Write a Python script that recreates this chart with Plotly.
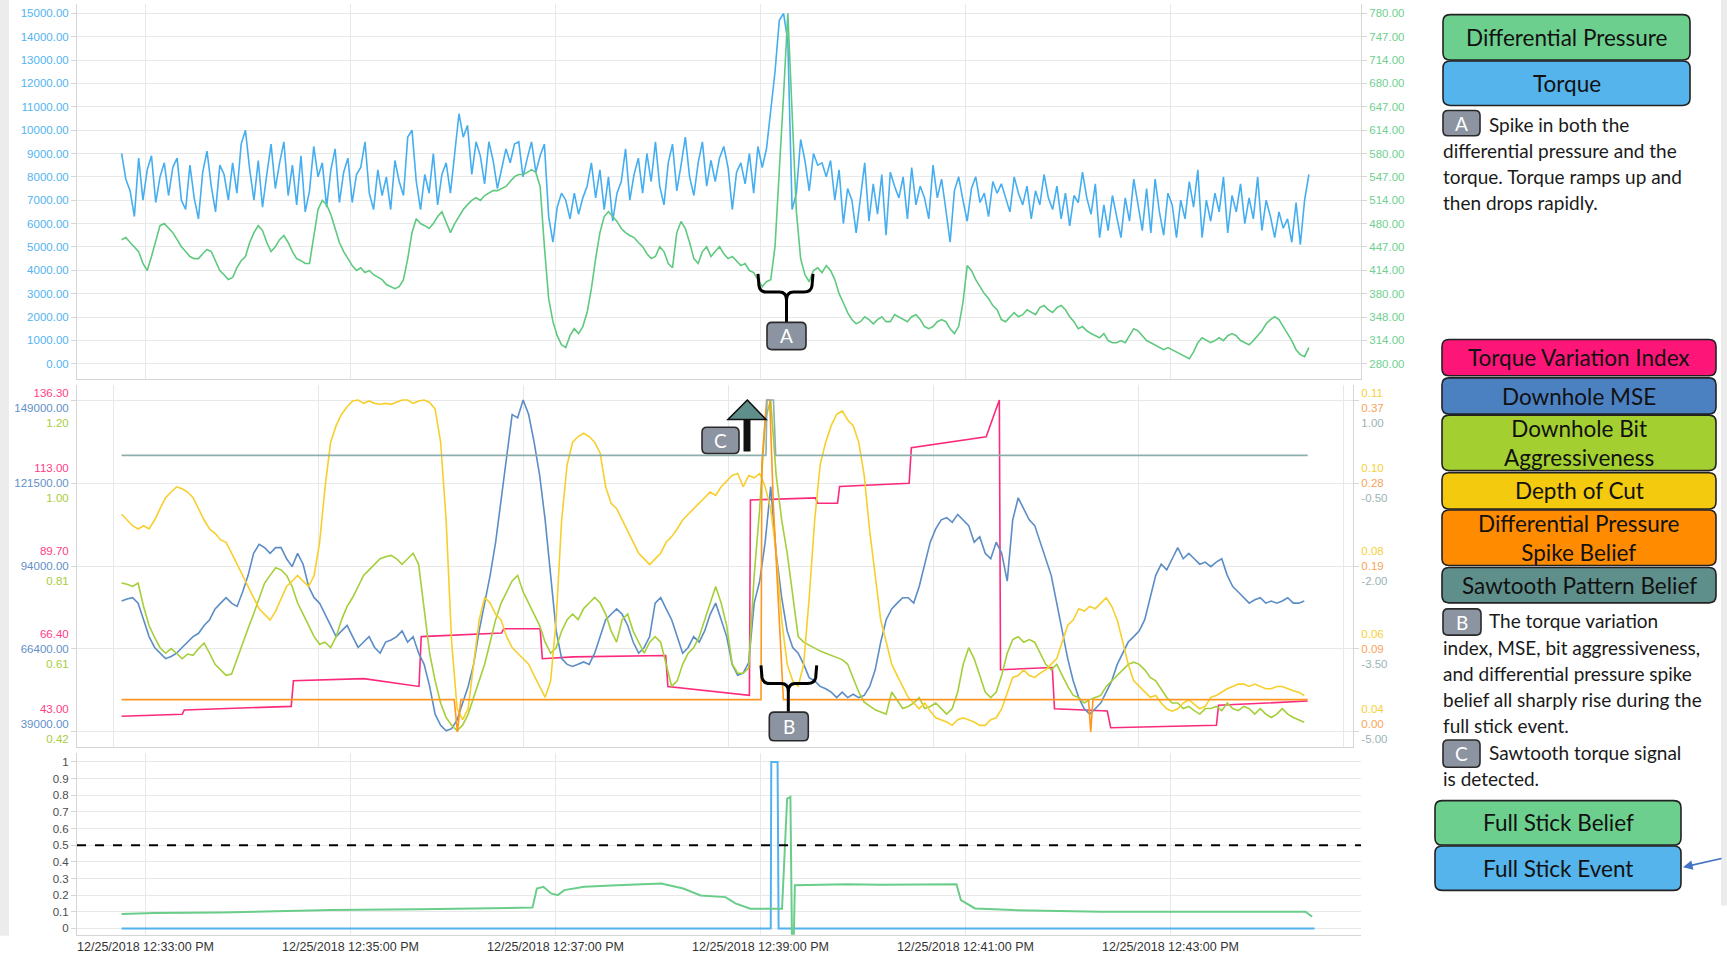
import numpy as np
import pandas as pd
import plotly.graph_objects as go

W, H = 1727, 954
# the photo of the page tends to come out a little squeezed vertically: photo_y ~= Y_SCALE * page_y + Y_SHIFT
Y_SCALE, Y_SHIFT = 0.987, 2.5

# ------------------------------------------------------------------ data
start_time = pd.Timestamp("2018-12-25 12:32:46")
top_period_s = 2.5
mid_period_s = 3.22

torque = [
    9000, 7900, 7400, 6300, 8800, 7000, 8300, 8900, 6900, 8000, 8600, 7200, 8400, 8800, 7000, 6600, 8500, 7100, 6200, 8200, 9100, 7600, 6500, 8500, 8100, 7000,
    8600, 7300, 9400, 10000, 8300, 7000, 8700, 6700, 8100, 9400, 7500, 8600, 9500, 7200, 8500, 6800, 8900, 6500, 7400, 9300, 8000, 8600, 6700, 8300, 9200, 6900,
    8200, 8800, 6900, 8100, 8400, 9500, 7300, 6600, 8300, 7200, 8000, 6600, 8700, 7800, 7200, 9700, 10000, 7800, 6600, 8100, 7300, 9000, 6800, 8100, 8600, 7300,
    9000, 10700, 9700, 10200, 8100, 9500, 8900, 7700, 9500, 8700, 7500, 8300, 9200, 8600, 9400, 9500, 8000, 8800, 9500, 8200, 8900, 9400, 6300, 5200, 6700, 7300,
    7000, 6200, 7300, 6400, 7100, 7600, 8600, 7100, 8300, 6600, 8000, 6100, 7300, 7800, 9200, 7000, 8100, 8800, 7300, 9000, 7800, 9500, 7600, 6800, 8600, 9400,
    7400, 8500, 9700, 8000, 7200, 8600, 9500, 7600, 8700, 7800, 8800, 9300, 8400, 6600, 8200, 8600, 7700, 9000, 7300, 9300, 8400, 9200, 10900, 12500, 14700, 15000,
    13800, 6600, 7300, 9600, 8700, 7400, 9000, 8500, 8600, 8000, 8700, 7000, 8300, 6000, 7500, 7000, 5600, 7100, 8600, 6100, 7700, 6400, 8100, 5500, 8200, 7600,
    7100, 8000, 6200, 8400, 6800, 7600, 7100, 6200, 8500, 7100, 7900, 6600, 5200, 7400, 8000, 7000, 6100, 7500, 8000, 6900, 7300, 6300, 7800, 7300, 7700, 7100,
    6500, 8000, 7300, 6800, 7600, 6200, 7400, 6800, 8100, 7100, 6600, 7600, 6200, 7300, 5900, 7200, 6900, 8200, 7100, 6400, 7700, 5400, 6800, 5700, 7200, 6300,
    5400, 7100, 6100, 7900, 6700, 5700, 7500, 5600, 7900, 6500, 5500, 7300, 6800, 5400, 7000, 6200, 7800, 6700, 8300, 5400, 7000, 6100, 7300, 6500, 8000, 5600,
    7200, 6500, 7700, 6000, 7100, 6200, 8000, 5700, 7000, 6300, 5400, 6500, 5800, 6200, 5200, 6900, 5100, 7000, 8100,
]

diff_pressure = [
    457, 460, 453, 447, 440, 423, 413, 433, 457, 477, 480, 473, 467, 457, 447, 440, 433, 430, 430, 437, 443, 440, 427, 413, 407, 400,
    403, 417, 427, 433, 453, 467, 477, 470, 453, 440, 447, 457, 463, 453, 440, 430, 427, 423, 423, 463, 500, 513, 507, 493, 473, 453,
    440, 430, 420, 413, 417, 410, 413, 407, 403, 400, 393, 390, 387, 390, 400, 430, 467, 487, 480, 477, 473, 480, 490, 497, 483, 467,
    480, 490, 500, 507, 513, 517, 513, 520, 523, 527, 527, 530, 533, 540, 547, 550, 550, 553, 557, 553, 533, 447, 373, 340, 320, 307,
    303, 320, 330, 323, 333, 353, 387, 430, 467, 490, 497, 490, 483, 473, 467, 463, 460, 453, 447, 437, 430, 433, 447, 440, 423, 417,
    467, 483, 473, 453, 430, 423, 440, 447, 433, 440, 447, 437, 430, 433, 427, 420, 423, 413, 410, 400, 390, 397, 400, 447, 547, 663,
    780, 647, 497, 430, 407, 397, 413, 417, 410, 420, 413, 400, 380, 367, 353, 343, 337, 340, 347, 343, 337, 343, 347, 340, 340, 350,
    347, 343, 340, 347, 350, 343, 333, 330, 333, 340, 343, 340, 330, 323, 333, 367, 420, 413, 400, 390, 380, 373, 363, 357, 343, 340,
    347, 353, 347, 350, 357, 353, 350, 360, 363, 357, 353, 360, 363, 357, 347, 340, 330, 333, 327, 323, 320, 317, 323, 313, 310, 310,
    313, 310, 320, 330, 327, 320, 313, 310, 307, 303, 300, 303, 300, 297, 293, 290, 287, 297, 310, 317, 313, 310, 313, 317, 313, 320,
    323, 320, 313, 310, 307, 313, 320, 327, 337, 343, 347, 343, 333, 323, 313, 300, 293, 290, 303,
]

downhole_mse = [
    82400, 83100, 83500, 81700, 76200, 70600, 67000, 65100, 63300, 64000, 65100, 67000, 68800, 70600, 71700, 74300, 76200, 79800, 81700, 83500,
    81700, 80600, 85400, 90900, 98200, 101200, 100100, 98200, 100100, 100100, 96400, 93800, 98200, 94600, 87200, 83500, 81700, 78000, 74300, 70600,
    72500, 74300, 70600, 67000, 68800, 70600, 67000, 65100, 68800, 69500, 70600, 72500, 68800, 70600, 65100, 61400, 54100, 44900, 41200, 39400,
    40100, 43000, 48600, 54100, 61400, 72500, 81700, 90900, 101900, 116600, 131300, 144200, 143100, 149000, 144200, 135000, 124000, 109300, 90900, 72500,
    63300, 61400, 60700, 61400, 62200, 61400, 65100, 70600, 76200, 78000, 79800, 78000, 74300, 68800, 65100, 67000, 70600, 81700, 83500, 79800,
    76200, 70600, 65100, 67000, 70600, 68800, 72500, 78000, 81700, 76200, 70600, 61400, 57800, 58500, 62000, 81700, 89000, 101900, 120300, 98200,
    83500, 72500, 67000, 65100, 61400, 57000, 55900, 54100, 53300, 52200, 50400, 52200, 50400, 51500, 50400, 51100, 54100, 59600, 68800, 76200,
    79800, 81700, 83500, 83500, 81700, 87200, 94600, 101900, 106300, 109300, 110000, 108500, 111100, 109300, 107400, 101900, 103700, 98200, 96400, 101900,
    98200, 89000, 109300, 116600, 112900, 109300, 107400, 101900, 96400, 90900, 81700, 72500, 63300, 55900, 50400, 46700, 44900, 46700, 48600, 52200,
    55900, 61400, 65100, 68800, 70600, 72500, 76200, 83500, 90900, 94600, 92700, 96400, 100100, 96400, 98200, 96400, 94600, 95300, 93800, 95300,
    96400, 90900, 87200, 85400, 83500, 81700, 82800, 83500, 81700, 82400, 81700, 82400, 83500, 81700, 81700, 82400,
]

bit_aggressiveness = [
    0.770, 0.767, 0.762, 0.770, 0.715, 0.670, 0.642, 0.618, 0.605, 0.616, 0.605, 0.592, 0.603, 0.600, 0.616, 0.629, 0.605, 0.579, 0.566, 0.553,
    0.556, 0.592, 0.631, 0.663, 0.697, 0.736, 0.770, 0.788, 0.806, 0.801, 0.788, 0.762, 0.723, 0.697, 0.670, 0.644, 0.626, 0.631, 0.618, 0.644,
    0.684, 0.715, 0.736, 0.762, 0.788, 0.801, 0.814, 0.827, 0.832, 0.835, 0.827, 0.814, 0.827, 0.840, 0.814, 0.710, 0.605, 0.540, 0.488, 0.454,
    0.436, 0.423, 0.436, 0.462, 0.501, 0.540, 0.579, 0.631, 0.684, 0.723, 0.749, 0.775, 0.788, 0.749, 0.723, 0.697, 0.670, 0.631, 0.605, 0.618,
    0.657, 0.684, 0.697, 0.684, 0.710, 0.723, 0.736, 0.723, 0.697, 0.657, 0.631, 0.684, 0.697, 0.657, 0.631, 0.605, 0.631, 0.644, 0.631, 0.579,
    0.527, 0.540, 0.579, 0.605, 0.618, 0.644, 0.684, 0.723, 0.762, 0.723, 0.670, 0.580, 0.558, 0.558, 0.570, 0.788, 0.944, 1.153, 1.200, 1.023,
    0.918, 0.840, 0.736, 0.644, 0.631, 0.624, 0.616, 0.610, 0.605, 0.600, 0.595, 0.590, 0.579, 0.548, 0.514, 0.490, 0.480, 0.472, 0.467, 0.462,
    0.514, 0.496, 0.475, 0.480, 0.488, 0.501, 0.475, 0.480, 0.488, 0.475, 0.462, 0.475, 0.514, 0.579, 0.618, 0.592, 0.553, 0.514, 0.501, 0.514,
    0.553, 0.605, 0.637, 0.644, 0.631, 0.637, 0.631, 0.605, 0.579, 0.566, 0.579, 0.553, 0.527, 0.506, 0.501, 0.488, 0.496, 0.501, 0.506, 0.527,
    0.540, 0.553, 0.566, 0.579, 0.584, 0.579, 0.566, 0.548, 0.540, 0.522, 0.501, 0.488, 0.488, 0.475, 0.480, 0.470, 0.462, 0.475, 0.475, 0.480,
    0.470, 0.488, 0.475, 0.470, 0.480, 0.475, 0.462, 0.475, 0.462, 0.454, 0.462, 0.475, 0.462, 0.454, 0.449, 0.443,
]

depth_of_cut = [
    0.0859, 0.0847, 0.0835, 0.0828, 0.0835, 0.0828, 0.0847, 0.0871, 0.0894, 0.0906, 0.0917, 0.0913, 0.0906, 0.0894, 0.0871, 0.0847, 0.0828, 0.0819, 0.0805, 0.0800,
    0.0777, 0.0753, 0.0730, 0.0707, 0.0683, 0.0660, 0.0648, 0.0636, 0.0655, 0.0683, 0.0707, 0.0718, 0.0730, 0.0718, 0.0707, 0.0730, 0.0800, 0.0917, 0.1011, 0.1046,
    0.1070, 0.1086, 0.1098, 0.1100, 0.1093, 0.1098, 0.1093, 0.1091, 0.1093, 0.1091, 0.1095, 0.1100, 0.1100, 0.1093, 0.1098, 0.1100, 0.1095, 0.1081, 0.1011, 0.0847,
    0.0590, 0.0449, 0.0426, 0.0449, 0.0543, 0.0636, 0.0683, 0.0672, 0.0648, 0.0636, 0.0601, 0.0578, 0.0566, 0.0555, 0.0543, 0.0519, 0.0496, 0.0473, 0.0508, 0.0636,
    0.0847, 0.0964, 0.1011, 0.1023, 0.1030, 0.1023, 0.1011, 0.0988, 0.0917, 0.0882, 0.0871, 0.0847, 0.0824, 0.0800, 0.0777, 0.0765, 0.0753, 0.0765, 0.0777, 0.0800,
    0.0812, 0.0828, 0.0847, 0.0859, 0.0871, 0.0882, 0.0894, 0.0906, 0.0899, 0.0917, 0.0929, 0.0941, 0.0945, 0.0917, 0.0941, 0.0936, 0.0945, 0.0917, 0.0871, 0.0777,
    0.0636, 0.0543, 0.0508, 0.0496, 0.0543, 0.0683, 0.0847, 0.0964, 0.1011, 0.1046, 0.1070, 0.1077, 0.1058, 0.1046, 0.1011, 0.0941, 0.0824, 0.0730, 0.0636, 0.0590,
    0.0543, 0.0519, 0.0496, 0.0473, 0.0461, 0.0449, 0.0461, 0.0444, 0.0430, 0.0426, 0.0421, 0.0414, 0.0426, 0.0430, 0.0426, 0.0421, 0.0414, 0.0414, 0.0426, 0.0430,
    0.0449, 0.0484, 0.0515, 0.0519, 0.0531, 0.0519, 0.0515, 0.0524, 0.0531, 0.0543, 0.0555, 0.0590, 0.0625, 0.0636, 0.0660, 0.0655, 0.0665, 0.0660, 0.0672, 0.0683,
    0.0665, 0.0636, 0.0590, 0.0543, 0.0508, 0.0496, 0.0484, 0.0473, 0.0477, 0.0461, 0.0449, 0.0444, 0.0449, 0.0461, 0.0468, 0.0459, 0.0449, 0.0454, 0.0473, 0.0477,
    0.0484, 0.0491, 0.0496, 0.0501, 0.0501, 0.0496, 0.0501, 0.0496, 0.0491, 0.0491, 0.0496, 0.0496, 0.0491, 0.0487, 0.0484, 0.0477,
]

# step-like series as (seconds after start, value) breakpoints
tvi_sec = [0, 35.5, 36.7, 99.3, 100.6, 141.8, 174.1, 175.4, 222.4, 223.7, 245.0, 246.3, 264.3, 318.5, 319.8, 367.5, 368.1,
           406.2, 407.5, 419.1, 420.3, 461.0, 462.3, 506.1, 513.8, 514.5, 544.8, 546.1, 577.0, 579.0, 640.9, 642.1, 694.3]
tvi_val = [47.4, 48.0, 49.2, 50.2, 57.4, 58.0, 55.8, 69.8, 70.8, 72.0, 72.0, 63.6, 64.1, 64.5, 55.8, 53.3, 108.2,
           108.8, 107.3, 107.3, 112.0, 112.9, 122.9, 126.0, 136.3, 60.5, 61.1, 49.5, 48.9, 44.2, 44.9, 50.5, 51.7]

dpsb_sec = [0, 194.7, 196.6, 198.6, 374.3, 374.8, 377.6, 379.4, 381.6, 385.0, 387.4, 566.0, 567.3, 568.6, 694.3]
dpsb_val = [0.036, 0.036, 0.0, 0.036, 0.036, 0.30, 0.37, 0.37, 0.25, 0.12, 0.036, 0.036, 0.0, 0.036, 0.036]

saw_sec = [0, 377.2, 377.8, 381.6, 382.9, 694.3]
saw_val = [0.0, 0.0, 1.0, 1.0, 0.0, 0.0]

fsb_sec = [0, 19.3, 58.0, 98.0, 122.5, 174.1, 219.2, 240.5, 243.1, 246.9, 251.4, 255.3, 259.2, 270.8, 290.1, 303.0,
           315.9, 328.8, 338.9, 353.5, 359.3, 368.1, 386.6, 389.6, 391.5, 392.4, 393.5, 394.1, 424.7, 444.2,
           470.6, 488.7, 491.3, 499.6, 522.2, 573.8, 638.3, 693.1, 696.9]
fsb_val = [0.087, 0.092, 0.095, 0.105, 0.11, 0.115, 0.12, 0.125, 0.24, 0.25, 0.21, 0.20, 0.23, 0.25, 0.26, 0.265,
           0.27, 0.24, 0.198, 0.188, 0.15, 0.118, 0.118, 0.78, 0.79, -0.05, -0.05, 0.26, 0.265, 0.262,
           0.265, 0.265, 0.17, 0.12, 0.11, 0.10, 0.10, 0.10, 0.07]

fse_sec = [0, 380.0, 380.3, 384.0, 384.6, 698.3]
fse_val = [0, 0, 1, 1, 0, 0]

belief_threshold = 0.5

# tick labels
torque_tickvals = list(range(0, 15001, 1000))
torque_ticktext = ["0.00", "1000.00", "2000.00", "3000.00", "4000.00", "5000.00", "6000.00", "7000.00",
                   "8000.00", "9000.00", "10000.00", "11000.00", "12000.00", "13000.00", "14000.00", "15000.00"]
dp_ticktext = ["280.00", "314.00", "348.00", "380.00", "414.00", "447.00", "480.00", "514.00",
               "547.00", "580.00", "614.00", "647.00", "680.00", "714.00", "747.00", "780.00"]
tvi_ticktext = ["43.00", "66.40", "89.70", "113.00", "136.30"]
mse_ticktext = ["39000.00", "66400.00", "94000.00", "121500.00", "149000.00"]
ba_ticktext = ["0.42", "0.61", "0.81", "1.00", "1.20"]
doc_ticktext = ["0.04", "0.06", "0.08", "0.10", "0.11"]
dpsb_ticktext = ["0.00", "0.09", "0.19", "0.28", "0.37"]
saw_ticktext = ["-5.00", "-3.50", "-2.00", "-0.50", "1.00"]
belief_tickvals = [0, 0.1, 0.2, 0.3, 0.4, 0.5, 0.6, 0.7, 0.8, 0.9, 1]
belief_ticktext = ["0", "0.1", "0.2", "0.3", "0.4", "0.5", "0.6", "0.7", "0.8", "0.9", "1"]

# ------------------------------------------------------------------ colours
C_TORQUE = "#45aef0"
C_DP = "#5fc97f"
C_TVI = "#fb2a7c"
C_MSE = "#5b8dc6"
C_BA = "#a5cf3a"
C_DOC = "#f7cf2c"
C_DPSB = "#ff9620"
C_SAW = "#8eaeab"
C_FSB = "#6acd8a"
C_FSE = "#52b2ef"

def times_uniform(n, period):
    return start_time + pd.to_timedelta(np.arange(n) * period, unit="s")

def times_sec(secs):
    return start_time + pd.to_timedelta(np.array(secs, dtype=float), unit="s")

top_t = times_uniform(len(torque), top_period_s)
mid_t = times_uniform(len(downhole_mse), mid_period_s)

fig = go.Figure()
LW = 1.6
fig.add_trace(go.Scatter(x=top_t, y=torque, mode="lines", line=dict(color=C_TORQUE, width=LW), xaxis="x", yaxis="y"))
fig.add_trace(go.Scatter(x=top_t, y=diff_pressure, mode="lines", line=dict(color=C_DP, width=LW), xaxis="x", yaxis="y2"))
fig.add_trace(go.Scatter(x=times_sec(tvi_sec), y=tvi_val, mode="lines", line=dict(color=C_TVI, width=LW), xaxis="x2", yaxis="y3"))
fig.add_trace(go.Scatter(x=mid_t, y=downhole_mse, mode="lines", line=dict(color=C_MSE, width=LW), xaxis="x2", yaxis="y4"))
fig.add_trace(go.Scatter(x=mid_t, y=bit_aggressiveness, mode="lines", line=dict(color=C_BA, width=LW), xaxis="x2", yaxis="y5"))
fig.add_trace(go.Scatter(x=mid_t, y=depth_of_cut, mode="lines", line=dict(color=C_DOC, width=LW), xaxis="x2", yaxis="y6"))
fig.add_trace(go.Scatter(x=times_sec(dpsb_sec), y=dpsb_val, mode="lines", line=dict(color=C_DPSB, width=LW), xaxis="x2", yaxis="y7"))
fig.add_trace(go.Scatter(x=times_sec(saw_sec), y=saw_val, mode="lines", line=dict(color=C_SAW, width=LW), xaxis="x2", yaxis="y8"))
fig.add_trace(go.Scatter(x=times_sec(fse_sec), y=fse_val, mode="lines", line=dict(color=C_FSE, width=2), xaxis="x3", yaxis="y9"))
fig.add_trace(go.Scatter(x=times_sec(fsb_sec), y=fsb_val, mode="lines", line=dict(color=C_FSB, width=2), xaxis="x3", yaxis="y9"))

# ------------------------------------------------------------------ layout helpers (target photo pixels)
def FY(y):
    return (y - Y_SHIFT) / Y_SCALE

def PX(x):
    return x / W

def PY(y):
    return 1 - FY(y) / H

GRID = "#e8e8e8"
LINE = "#d6d6d6"
CLEAR = "rgba(0,0,0,0)"
TICKFONT = dict(family="Liberation Sans, Arial", size=11.5)

PX_PER_SEC = 102.5 / 60.0
T_1233_PX = 145.5
PLOT_L, PLOT_R, PLOT_R_MID = 77, 1361, 1353
t_1233 = pd.Timestamp("2018-12-25 12:33:00")

def t_at(px):
    return t_1233 + pd.to_timedelta((px - T_1233_PX) / PX_PER_SEC, unit="s")

def xaxis(anchor, labels, right=PLOT_R, grid0="2018-12-25 12:33:00"):
    return dict(domain=[PX(PLOT_L), PX(right)], anchor=anchor, range=[t_at(PLOT_L), t_at(right)], type="date",
                tick0=grid0, dtick=120000, showgrid=True, gridcolor=GRID,
                showline=True, linecolor=LINE, zeroline=False, showticklabels=labels, ticks="",
                tickformat="%m/%d/%Y %I:%M:%S %p",
                tickfont=dict(family="Liberation Sans, Arial", size=12.5, color="#333333"))

def panel(top, bot):
    return max(FY(top), 0.0), min(FY(bot), H)

def lin_range(v_hi, px_hi, v_lo, px_lo, pnl):
    f_hi, f_lo = FY(px_hi), FY(px_lo)
    f_top, f_bot = pnl
    per_px = (v_hi - v_lo) / (f_lo - f_hi)
    return [v_lo - (f_bot - f_lo) * per_px, v_hi + (f_hi - f_top) * per_px]

def dom(pnl):
    return [1 - pnl[1] / H, 1 - pnl[0] / H]

def stack(*cols):
    out = []
    for parts in zip(*[c[1] for c in cols]):
        out.append("<br>".join(f"<span style='color:{col}'>{t}</span>" for (col, _), t in zip(cols, parts)))
    return out

TOP = panel(6, 378)
MID = panel(384, 743)
BOT = panel(749, 929)
MID_GRID_TOP, MID_GRID_BOT = 399.0, 728.0

def top_rng(hi, lo):
    return lin_range(hi, 15.7, lo, 363.0, TOP)

def mid_rng(hi, lo):
    return lin_range(hi, MID_GRID_TOP, lo, MID_GRID_BOT, MID)

def mid_label_pos(lo, hi, inset_px=8.0):
    # the outermost label groups sit inside the panel (nudged inwards by inset_px)
    step = (hi - lo) / 4
    per_px = step / ((MID_GRID_BOT - MID_GRID_TOP) / 4)
    vals = list(np.linspace(lo, hi, 5))
    vals[0] += inset_px * per_px
    vals[-1] -= inset_px * per_px
    return vals

left_mid_text = stack(("#ff3d86", tvi_ticktext), ("#5f90c8", mse_ticktext), ("#a7cd40", ba_ticktext))
right_mid_text = stack(("#f6cf3a", doc_ticktext), ("#f8a35a", dpsb_ticktext), ("#9ab4b4", saw_ticktext))

label_axis = dict(showgrid=False, zeroline=False, showline=False,
                  ticks="outside", ticklen=5, tickcolor=CLEAR, tickfont=TICKFONT)

fig.update_layout(
    xaxis=xaxis("y", False),
    xaxis2=xaxis("y3", False, right=PLOT_R_MID, grid0="2018-12-25 12:32:41.3"),
    xaxis3=xaxis("y9", True),
    yaxis=dict(domain=dom(TOP), anchor="x", range=top_rng(15000, 0), tickvals=torque_tickvals, ticktext=torque_ticktext,
               showgrid=True, gridcolor=GRID, zeroline=False, showline=True, linecolor=LINE,
               ticks="outside", ticklen=5, tickcolor=LINE, tickfont=dict(TICKFONT, color="#52b4f0")),
    yaxis2=dict(overlaying="y", side="right", anchor="x", range=top_rng(780, 280),
                tickvals=list(np.linspace(280, 780, len(dp_ticktext))), ticktext=dp_ticktext,
                showgrid=False, zeroline=False, showline=True, linecolor=LINE,
                ticks="outside", ticklen=5, tickcolor=LINE, tickfont=dict(TICKFONT, color="#6fd090")),
    # middle panel: TVI axis carries grid, line and tick marks
    yaxis3=dict(domain=dom(MID), anchor="x2", range=mid_rng(136.3, 43),
                tickvals=list(np.linspace(43, 136.3, 5)), showticklabels=False,
                showgrid=True, gridcolor=GRID, zeroline=False, showline=True, linecolor=LINE,
                ticks="outside", ticklen=5, tickcolor=LINE),
    # MSE axis carries the stacked left labels (TVI / MSE / bit aggressiveness)
    yaxis4=dict(overlaying="y3", side="left", anchor="x2", range=mid_rng(149000, 39000),
                tickvals=mid_label_pos(39000, 149000), ticktext=left_mid_text, **label_axis),
    yaxis5=dict(overlaying="y3", anchor="x2", range=mid_rng(1.20, 0.42), visible=False),
    yaxis6=dict(overlaying="y3", side="right", anchor="x2", range=mid_rng(0.11, 0.04),
                tickvals=list(np.linspace(0.04, 0.11, 5)), showticklabels=False,
                showgrid=False, zeroline=False, showline=True, linecolor=LINE,
                ticks="outside", ticklen=5, tickcolor=LINE),
    # DPSB axis carries the stacked right labels (depth of cut / DP spike belief / sawtooth)
    yaxis7=dict(overlaying="y3", side="right", anchor="x2", range=mid_rng(0.37, 0.0),
                tickvals=mid_label_pos(0.0, 0.37), ticktext=right_mid_text, **label_axis),
    yaxis8=dict(overlaying="y3", anchor="x2", range=mid_rng(1.0, -5.0), visible=False),
    yaxis9=dict(domain=dom(BOT), anchor="x3", range=lin_range(1.0, 757.7, 0.0, 922.7, BOT),
                tickvals=belief_tickvals, ticktext=belief_ticktext,
                showgrid=True, gridcolor=GRID, zeroline=False, showline=True, linecolor=LINE,
                ticks="outside", ticklen=5, tickcolor=LINE, tickfont=dict(TICKFONT, color="#4d4d4d")),
)

# ------------------------------------------------------------------ decorations
def fmt(x, y):
    return f"{PX(x):.5f},{PY(y):.5f}"

def rrect_path(x0, y0, x1, y1, r):
    return (f"M{fmt(x0 + r, y0)} L{fmt(x1 - r, y0)} Q{fmt(x1, y0)} {fmt(x1, y0 + r)} "
            f"L{fmt(x1, y1 - r)} Q{fmt(x1, y1)} {fmt(x1 - r, y1)} L{fmt(x0 + r, y1)} "
            f"Q{fmt(x0, y1)} {fmt(x0, y1 - r)} L{fmt(x0, y0 + r)} Q{fmt(x0, y0)} {fmt(x0 + r, y0)} Z")

shapes = []
annotations = []

# grey page edges
for (x0, y0, x1, y1) in [(0, 0, 9, 930), (1721, 0, W, 900)]:
    shapes.append(dict(type="rect", xref="paper", yref="paper", x0=PX(x0), x1=PX(x1), y0=PY(y1), y1=1.0,
                       fillcolor="#ececec", line=dict(width=0), layer="below"))

shapes.append(dict(type="line", xref="x3 domain", yref="y9", x0=0, x1=1, y0=belief_threshold, y1=belief_threshold,
                   line=dict(color="black", width=2, dash="dash")))

LEG_FONT = "Lato, Noto Sans, sans-serif"

def box(x0, y0, x1, y1, fill, text, size=22.5):
    shapes.append(dict(type="path", xref="paper", yref="paper", path=rrect_path(x0, y0, x1, y1, 7),
                       fillcolor=fill, line=dict(color="#222222", width=1.6)))
    annotations.append(dict(xref="paper", yref="paper", x=PX((x0 + x1) / 2), y=PY((y0 + y1) / 2),
                            text=text, showarrow=False, xanchor="center", yanchor="middle",
                            font=dict(family=LEG_FONT, size=size, color="#111111")))

def badge(x0, y0, x1, y1, letter):
    shapes.append(dict(type="path", xref="paper", yref="paper", path=rrect_path(x0, y0, x1, y1, 5),
                       fillcolor="#8c94a1", line=dict(color="#2a2a2a", width=1.6)))
    annotations.append(dict(xref="paper", yref="paper", x=PX((x0 + x1) / 2), y=PY((y0 + y1) / 2),
                            text=letter, showarrow=False, xanchor="center", yanchor="middle",
                            font=dict(family=LEG_FONT, size=19, color="white")))

def line_text(x, y, text, size=19):
    annotations.append(dict(xref="paper", yref="paper", x=PX(x), y=PY(y), text=text, showarrow=False,
                            xanchor="left", yanchor="middle", font=dict(family=LEG_FONT, size=size, color="#1a1a1a")))

def brace(xl, xr, ytop, yh, xc, ystem):
    p = (f"M{fmt(xl, ytop)} L{fmt(xl + 1, yh - 6)} Q{fmt(xl + 2, yh)} {fmt(xl + 9, yh)} L{fmt(xc - 7, yh)} "
         f"Q{fmt(xc, yh)} {fmt(xc, yh + 8)} Q{fmt(xc, yh)} {fmt(xc + 7, yh)} L{fmt(xr - 9, yh)} "
         f"Q{fmt(xr - 2, yh)} {fmt(xr - 1, yh - 6)} L{fmt(xr, ytop)}")
    shapes.append(dict(type="path", xref="paper", yref="paper", path=p, line=dict(color="black", width=3)))
    shapes.append(dict(type="path", xref="paper", yref="paper", path=f"M{fmt(xc, yh + 6)} L{fmt(xc, ystem)}",
                       line=dict(color="black", width=3)))

# right-hand legend: top panel
box(1443, 17, 1690, 62, "#6dcf8e", "Differential Pressure")
box(1443, 63, 1690, 107, "#56b4ec", "Torque")
badge(1443, 112, 1480, 137, "A")
line_text(1487, 126, "Spike in both the")
for i, t in enumerate(["differential pressure and the", "torque. Torque ramps up and", "then drops rapidly."]):
    line_text(1441, 152 + 25.5 * i, t)

# middle panel legend
box(1442, 339, 1716, 375, "#fe1578", "Torque Variation Index")
box(1442, 377, 1716, 413, "#4b80c1", "Downhole MSE")
box(1442, 414, 1716, 469, "#a3d030", "Downhole Bit<br>Aggressiveness")
box(1442, 471, 1716, 507, "#f3ca0d", "Depth of Cut")
box(1442, 508, 1716, 563, "#ff8b00", "Differential Pressure<br>Spike Belief")
box(1442, 565, 1716, 600, "#5f8f8b", "Sawtooth Pattern Belief")
badge(1443, 606, 1481, 632, "B")
line_text(1487, 618, "The torque variation")
for i, t in enumerate(["index, MSE, bit aggressiveness,", "and differential pressure spike",
                       "belief all sharply rise during the", "full stick event."]):
    line_text(1441, 644 + 25.8 * i, t)
badge(1443, 736, 1480, 763, "C")
line_text(1487, 748, "Sawtooth torque signal")
line_text(1441, 774, "is detected.")

# bottom panel legend
box(1435, 796, 1681, 840, "#6dcf8e", "Full Stick Belief")
box(1435, 841, 1681, 885, "#56b4ec", "Full Stick Event")
annotations.append(dict(xref="paper", yref="paper", x=PX(1683), y=PY(862), ax=40, ay=-9, text="",
                        showarrow=True, arrowhead=2, arrowsize=1.2, arrowwidth=1.6, arrowcolor="#4472c4"))

# in-chart markers
brace(758, 813, 274, 292, 786.5, 322)
badge(767, 322, 806, 349, "A")
brace(761, 816.7, 662, 680, 788.3, 708)
badge(769.3, 708.3, 808.3, 736.7, "B")
shapes.append(dict(type="rect", xref="paper", yref="paper", x0=PX(743.5), x1=PX(750.5), y0=PY(450), y1=PY(417),
                   fillcolor="#111111", line=dict(width=0)))
shapes.append(dict(type="path", xref="paper", yref="paper",
                   path=f"M{fmt(747.3, 399)} L{fmt(766, 418.3)} L{fmt(728, 418.3)} Z",
                   fillcolor="#5f8f8a", line=dict(color="#111111", width=1.6)))
badge(702, 426, 739, 452, "C")

fig.update_layout(
    width=W, height=H, margin=dict(l=0, r=0, t=0, b=0),
    paper_bgcolor="white", plot_bgcolor="white", showlegend=False,
    shapes=shapes, annotations=annotations,
)

fig.write_html("out.html", config={"displayModeBar": False},
               post_script="document.body.style.margin='0';document.body.style.overflow='hidden';")
